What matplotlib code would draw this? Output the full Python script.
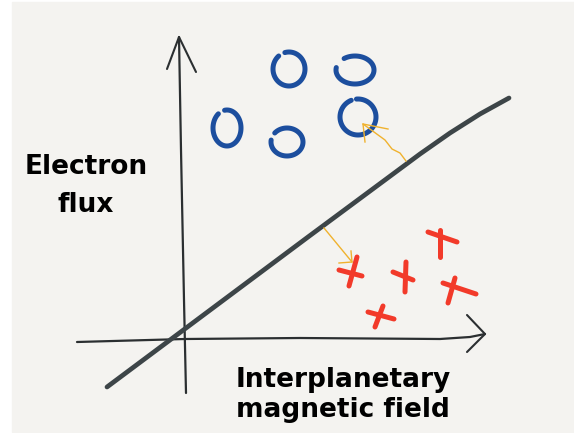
import numpy as np
import matplotlib.pyplot as plt
from matplotlib.patches import Rectangle

# sketch content, in picture pixels (x right, y down)
circle_x = [289, 355, 227, 287, 358]
circle_y = [69, 70, 128, 142, 117]
circle_rx = [16, 19, 14, 16, 18]
circle_ry = [17, 14, 18, 14, 18]
circle_gap = [(105, 130), (125, 170), (100, 128), (140, 172), (95, 112)]

cross_h = [((339, 270), (362, 276)), ((393, 272), (413, 280)), ((428, 232), (457, 242)),
           ((443, 283), (476, 294)), ((368, 312), (394, 319))]
cross_v = [((357, 257), (349, 286)), ((406, 262), (405, 292)), ((440, 230), (440, 257)),
           ((455, 278), (448, 303)), ((383, 306), (375, 327))]

boundary_x = [107, 308, 420, 450, 480, 509]
boundary_y = [387, 237, 154, 133, 114, 98]

yaxis_x = [179, 181, 184, 186]
yaxis_y = [37, 150, 300, 393]
xaxis_x = [77, 185, 300, 440, 470, 485]
xaxis_y = [342, 339, 338, 339, 337, 334]

arrow_up_x = [406, 400, 392, 385, 363]
arrow_up_y = [161, 153, 149, 140, 124]
arrow_dn_x = [324, 338, 352]
arrow_dn_y = [228, 245, 262]

BLUE = '#1c4e9e'
RED = '#f23a2a'
ORANGE = '#f0b22e'
INK = '#2b2f31'
SLATE = '#3d4548'

fig = plt.figure(figsize=(5.74, 4.33), dpi=100, facecolor='white')
ax = fig.add_axes([0, 0, 1, 1])
ax.set_xlim(0, 574)
ax.set_ylim(433, 0)
ax.axis('off')
ax.add_patch(Rectangle((12, 2), 562, 430, color='#f4f3f0', zorder=0))

# axes of the sketch
ax.plot(yaxis_x, yaxis_y, color=INK, lw=1.6, solid_capstyle='round')
ax.plot([167, 179, 196], [69, 37, 72], color=INK, lw=1.5, solid_capstyle='round')
ax.plot(xaxis_x, xaxis_y, color=INK, lw=1.6, solid_capstyle='round')
ax.plot([467, 485, 467], [315, 334, 352], color=INK, lw=1.5, solid_capstyle='round')

# decision boundary
ax.plot(boundary_x, boundary_y, color=SLATE, lw=3.4, solid_capstyle='round',
        solid_joinstyle='round')

# circles
for cx, cy, rx, ry, (g0, g1) in zip(circle_x, circle_y, circle_rx, circle_ry, circle_gap):
    t = np.radians(np.linspace(g1, g0 + 360, 80))
    ax.plot(cx + rx * np.cos(t), cy - ry * np.sin(t), color=BLUE, lw=3.6,
            solid_capstyle='round')

# crosses
for (a, b), (c, d) in zip(cross_h, cross_v):
    ax.plot([a[0], b[0]], [a[1], b[1]], color=RED, lw=3.6, solid_capstyle='round')
    ax.plot([c[0], d[0]], [c[1], d[1]], color=RED, lw=3.6, solid_capstyle='round')

# orange arrows
ax.plot(arrow_up_x, arrow_up_y, color=ORANGE, lw=1.0)
ax.plot([388, 363, 365], [129, 124, 142], color=ORANGE, lw=1.0)
ax.plot(arrow_dn_x, arrow_dn_y, color=ORANGE, lw=1.0)
ax.plot([339, 352, 351], [263, 262, 251], color=ORANGE, lw=1.0)

font = dict(family='DejaVu Sans', weight='bold', fontsize=19, color='black',
            ha='center', va='center')
ax.text(86, 167, 'Electron', **font)
ax.text(86, 205, 'flux', **font)
ax.text(343, 380, 'Interplanetary', **font)
ax.text(343, 410, 'magnetic field', **font)

fig.savefig('out.png', dpi=100, facecolor=fig.get_facecolor())
